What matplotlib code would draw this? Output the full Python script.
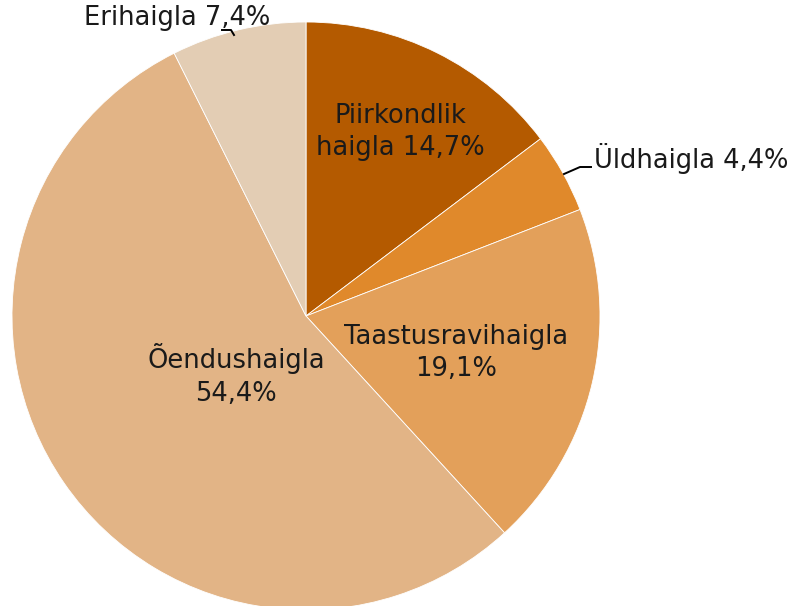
import matplotlib
matplotlib.use('Agg')
import matplotlib.pyplot as plt

labels = ['Piirkondlik\nhaigla 14,7%', 'Üldhaigla 4,4%', 'Taastusravihaigla\n19,1%',
          'Õendushaigla\n54,4%', 'Erihaigla 7,4%']
shares = [14.7, 4.4, 19.1, 54.4, 7.4]
colors = ['#B45A00', '#E0892B', '#E3A05A', '#E2B486', '#E3CDB4']

# label centres in pixel coordinates of the reference image
label_px = [(400, 132), (594, 158), (456, 353), (236, 375), (177, 18)]
label_ha = ['center', 'left', 'center', 'center', 'center']

W, H = 796, 606
cx, cy, r = 306, 316, 294

fig = plt.figure(figsize=(W / 100, H / 100), dpi=100)
ax = fig.add_axes([(cx - r) / W, (H - cy - r) / H, 2 * r / W, 2 * r / H])
ax.pie(shares, colors=colors, startangle=90, counterclock=False, radius=1,
       wedgeprops=dict(edgecolor='white', linewidth=0.6))
ax.set_xlim(-1, 1)
ax.set_ylim(-1, 1)
ax.set_aspect('auto')
ax.axis('off')


def to_data(px, py):
    return (px - cx) / r, (cy - py) / r


for lab, (px, py), ha in zip(labels, label_px, label_ha):
    x, y = to_data(px, py)
    ax.text(x, y, lab, ha=ha, va='center', fontsize=18.5, color='#1a1a1a',
            linespacing=1.3, clip_on=False)

# leader lines
pts = [to_data(*p) for p in [(564, 174), (580, 167), (591, 167)]]
ax.plot([p[0] for p in pts], [p[1] for p in pts], color='black', lw=1.4, clip_on=False)
pts = [to_data(*p) for p in [(222, 30), (231, 30), (234, 35)]]
ax.plot([p[0] for p in pts], [p[1] for p in pts], color='black', lw=1.4, clip_on=False)

fig.savefig('out.png', dpi=100)
